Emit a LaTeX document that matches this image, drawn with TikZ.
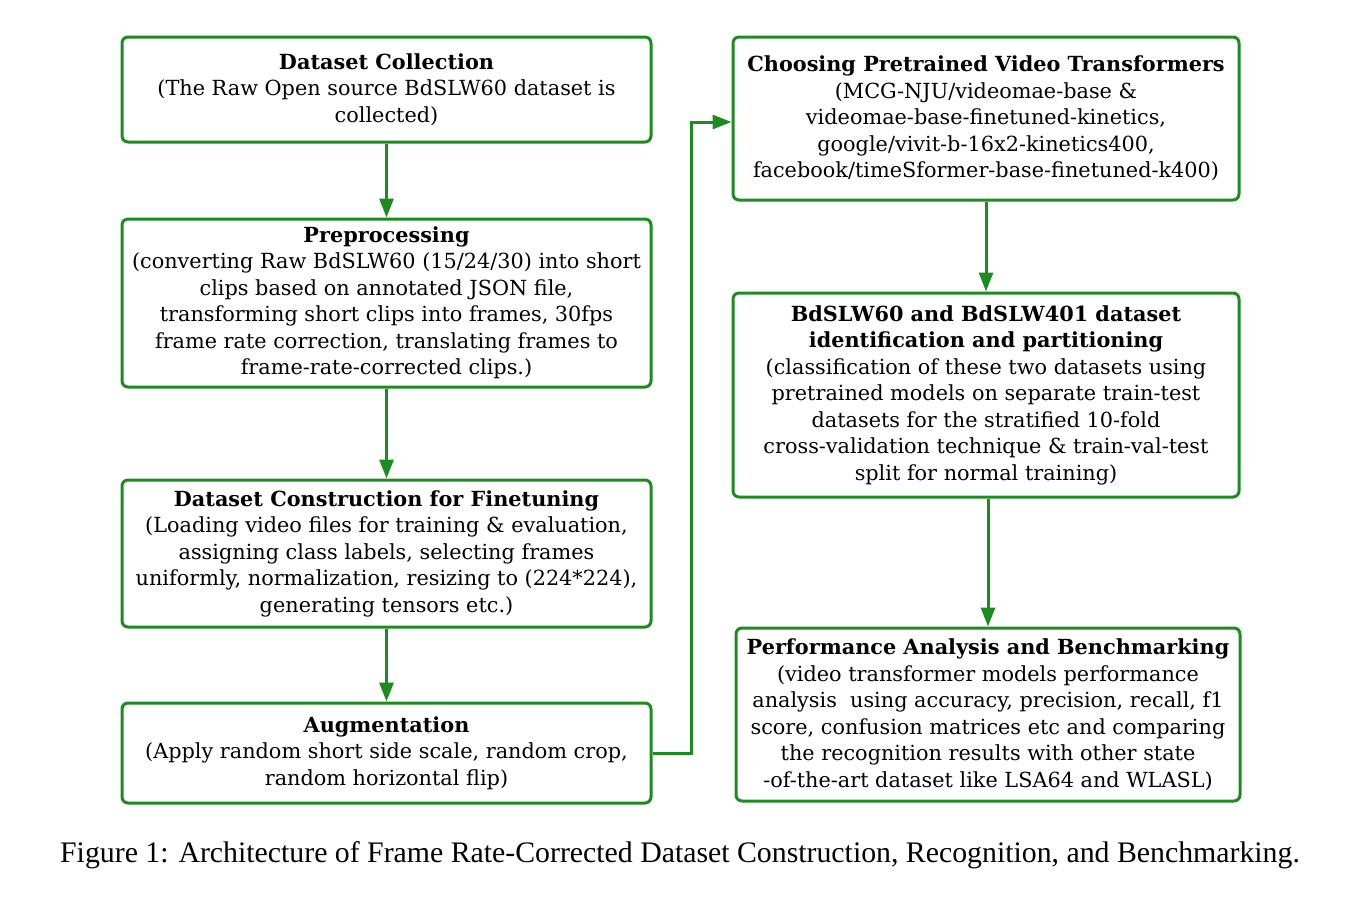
\documentclass[tikz,border=0pt]{standalone}
\usepackage{fontspec}
\setmainfont{DejaVu Serif}
\newfontfamily\capfont{Liberation Serif}
\usetikzlibrary{arrows.meta}
\definecolor{boxgreen}{RGB}{28,140,32}
\tikzset{
  flowbox/.style={draw=boxgreen, line width=3pt, rounded corners=6pt, fill=white,
    align=center, inner sep=0pt, font=\fontsize{20.8}{26.5}\selectfont},
  flowarrow/.style={draw=boxgreen, line width=3pt, -{Triangle[length=19pt,width=14pt]}}
}
\begin{document}
\begin{tikzpicture}[x=1pt,y=-1pt]
\useasboundingbox[fill=white] (0,0) rectangle (1362,902);
% left column
\node[flowbox, minimum width=529pt, minimum height=105pt] (b1) at (386.5,89.5)
  {\textbf{Dataset Collection}\\(The Raw Open source BdSLW60 dataset is\\collected)};
\node[flowbox, minimum width=529pt, minimum height=168pt] (b2) at (386.5,303)
  {\textbf{Preprocessing}\\(converting Raw BdSLW60 (15/24/30) into short\\clips based on annotated JSON file,\\transforming short clips into frames, 30fps\\frame rate correction, translating frames to\\frame-rate-corrected clips.)};
\node[flowbox, minimum width=529pt, minimum height=147pt] (b3) at (386.5,553.5)
  {\textbf{Dataset Construction for Finetuning}\\(Loading video files for training \& evaluation,\\assigning class labels, selecting frames\\uniformly, normalization, resizing to (224*224),\\generating tensors etc.)};
\node[flowbox, minimum width=529pt, minimum height=100pt] (b4) at (386.5,753)
  {\textbf{Augmentation}\\(Apply random short side scale, random crop,\\random horizontal flip)};
% right column
\node[flowbox, minimum width=506pt, minimum height=163pt] (b5) at (986,118.5)
  {\textbf{Choosing Pretrained Video Transformers}\\(MCG-NJU/videomae-base \&\\videomae-base-finetuned-kinetics,\\google/vivit-b-16x2-kinetics400,\\facebook/timeSformer-base-finetuned-k400)};
\node[flowbox, minimum width=506pt, minimum height=204pt] (b6) at (986,395)
  {\textbf{BdSLW60 and BdSLW401 dataset}\\\textbf{identification and partitioning}\\(classification of these two datasets using\\pretrained models on separate train-test\\datasets for the stratified 10-fold\\cross-validation technique \& train-val-test\\split for normal training)};
\node[flowbox, minimum width=504pt, minimum height=173pt] (b7) at (988,714.5)
  {\textbf{Performance Analysis and Benchmarking}\\(video transformer models performance\\analysis\ \ using accuracy, precision, recall, f1\\score, confusion matrices etc and comparing\\the recognition results with other state\\-of-the-art dataset like LSA64 and WLASL)};
% connectors
\draw[flowarrow] (b1.south) -- (b2.north);
\draw[flowarrow] (b2.south) -- (b3.north);
\draw[flowarrow] (b3.south) -- (b4.north);
\coordinate (j1) at (691,753);
\coordinate (j2) at (691,122);
\draw[flowarrow] (b4.east) -- (j1) -- (j2) -- (b5.west |- j2);
\draw[flowarrow] (b5.south) -- (b6.north);
\draw[flowarrow] (b6.south -| b7.north) -- (b7.north);
% caption
\node[font=\capfont\fontsize{29.8}{34}\selectfont, inner sep=0pt] (cap) at (680,855)
  {Figure 1: Architecture of Frame Rate-Corrected Dataset Construction, Recognition, and Benchmarking.};
\end{tikzpicture}
\end{document}
